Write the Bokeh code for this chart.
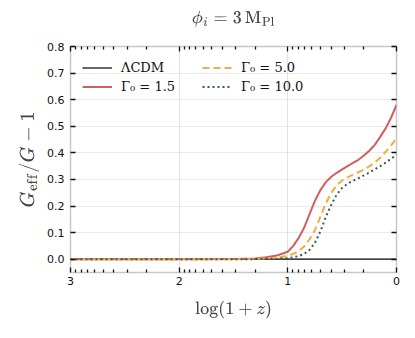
import math
from bokeh.plotting import figure
from bokeh.models import (Range1d, LinearAxis, FixedTicker, Legend, LegendItem,
                          PrintfTickFormatter)
from bokeh.embed import file_html
from bokeh.resources import INLINE

# ---- data ----
log1pz = [3.0, 2.0, 1.5, 1.3, 1.2, 1.1, 1.0, 0.95, 0.9, 0.85, 0.8, 0.75, 0.7,
          0.65, 0.6, 0.55, 0.5, 0.45, 0.4, 0.35, 0.3, 0.25, 0.2, 0.15, 0.1, 0.05, 0.0]
lcdm = [0.0] * len(log1pz)
g15 = [0.0, 0.0, 0.0005, 0.003, 0.007, 0.014, 0.028, 0.05, 0.08, 0.118, 0.17, 0.22,
       0.26, 0.29, 0.31, 0.325, 0.338, 0.35, 0.362, 0.374, 0.39, 0.408, 0.43, 0.46,
       0.492, 0.532, 0.58]
g50 = [0.0, 0.0, 0.0002, 0.001, 0.003, 0.006, 0.013, 0.02, 0.03, 0.048, 0.075, 0.11,
       0.16, 0.21, 0.25, 0.278, 0.296, 0.308, 0.318, 0.327, 0.337, 0.349, 0.364, 0.382,
       0.404, 0.428, 0.455]
g100 = [0.0, 0.0, 0.0, 0.0003, 0.001, 0.002, 0.004, 0.007, 0.012, 0.02, 0.035, 0.062,
        0.105, 0.16, 0.205, 0.243, 0.268, 0.284, 0.295, 0.305, 0.315, 0.326, 0.338,
        0.35, 0.363, 0.378, 0.393]

x_major = [0, 1, 2, 3]
y_major = [0.0, 0.1, 0.2, 0.3, 0.4, 0.5, 0.6, 0.7, 0.8]
labels = ["ΛCDM", "Γ₀ = 1.5", "Γ₀ = 5.0", "Γ₀ = 10.0"]

# log-style minor ticks within each decade
x_minor = [d + math.log10(k) for d in range(3) for k in range(2, 10)]

p = figure(width=410, height=334, output_backend="svg", toolbar_location=None,
           x_range=Range1d(3, 0), y_range=Range1d(-0.05, 0.8),
           min_border_left=70, min_border_right=14, min_border_top=46,
           min_border_bottom=62, background_fill_color="white",
           border_fill_color="white")

p.title.text = r"$$\phi_i = 3\,\mathrm{M_{Pl}}$$"
p.title.align = "center"
p.title.text_font_size = "15px"
p.title.text_font_style = "normal"

p.outline_line_color = "#c8c8c8"
p.outline_line_width = 1.5

p.xgrid.ticker = FixedTicker(ticks=[1, 2])
p.xgrid.grid_line_color = "#e2e2e2"
p.xgrid.grid_line_width = 1
p.ygrid.ticker = FixedTicker(ticks=y_major[1:])
p.ygrid.grid_line_color = "#d4d4d4"
p.ygrid.grid_line_dash = "1 1"

xt = FixedTicker(ticks=x_major, minor_ticks=x_minor)
yt = FixedTicker(ticks=y_major)

def style_axis(ax, minor=True):
    ax.axis_line_color = None
    ax.major_tick_in = 5
    ax.major_tick_out = 0
    ax.major_tick_line_color = "#111111"
    ax.major_tick_line_width = 1.3
    if minor:
        ax.minor_tick_in = 3
        ax.minor_tick_out = 0
        ax.minor_tick_line_color = "#111111"
        ax.minor_tick_line_width = 1.3
    else:
        ax.minor_tick_line_color = None
    ax.major_label_text_font = "DejaVu Sans"
    ax.major_label_text_font_size = "11px"
    ax.major_label_text_color = "#111111"

xa = p.xaxis[0]
xa.ticker = xt
style_axis(xa)
xa.axis_label = r"$$\log(1+z)$$"
xa.axis_label_text_font_size = "15px"
xa.major_label_standoff = 4
xa.axis_label_standoff = 13

ya = p.yaxis[0]
ya.ticker = yt
ya.formatter = PrintfTickFormatter(format="%.1f")
style_axis(ya, minor=False)
ya.axis_label = r"$$G_{\rm eff}/G - 1$$"
ya.axis_label_text_font_size = "16px"
ya.major_label_standoff = 6

top = LinearAxis(ticker=xt)
style_axis(top)
top.major_label_text_font_size = "0px"
top.major_label_text_color = None
top.major_label_standoff = 0
p.add_layout(top, "above")

# invisible spacer axis that lifts the title away from the frame
spacer = LinearAxis(ticker=xt, axis_line_color=None, major_tick_in=0,
                    major_tick_out=14, major_tick_line_color=None,
                    minor_tick_line_color=None, minor_tick_in=0, minor_tick_out=0,
                    major_label_text_color=None, major_label_text_font_size="0px",
                    major_label_standoff=0)
p.add_layout(spacer, "above")

right = LinearAxis(ticker=yt)
style_axis(right, minor=False)
right.major_label_text_font_size = "0px"
right.major_label_text_color = None
right.major_label_standoff = 0
p.add_layout(right, "right")

r0 = p.line(log1pz, lcdm, line_color="black", line_width=1.2)
r1 = p.line(log1pz, g15, line_color="#d0605e", line_width=2)
r2 = p.line(log1pz, g50, line_color="#ecb041", line_width=2, line_dash="7 4")
r3 = p.line(log1pz, g100, line_color="#3b5b4f", line_width=2, line_dash="2 3")

legend = Legend(items=[LegendItem(label=labels[0], renderers=[r0]),
                       LegendItem(label=labels[1], renderers=[r1]),
                       LegendItem(label=labels[2], renderers=[r2]),
                       LegendItem(label=labels[3], renderers=[r3])],
                location="top_left", nrows=2, border_line_color=None,
                background_fill_alpha=0, margin=12, padding=0, spacing=0,
                glyph_width=30, glyph_height=19, label_height=19, label_width=81,
                label_standoff=9, label_text_font="DejaVu Serif",
                label_text_font_size="13px", label_text_color="#111111")
p.add_layout(legend, "center")

open("out.html", "w").write(file_html(p, INLINE))
